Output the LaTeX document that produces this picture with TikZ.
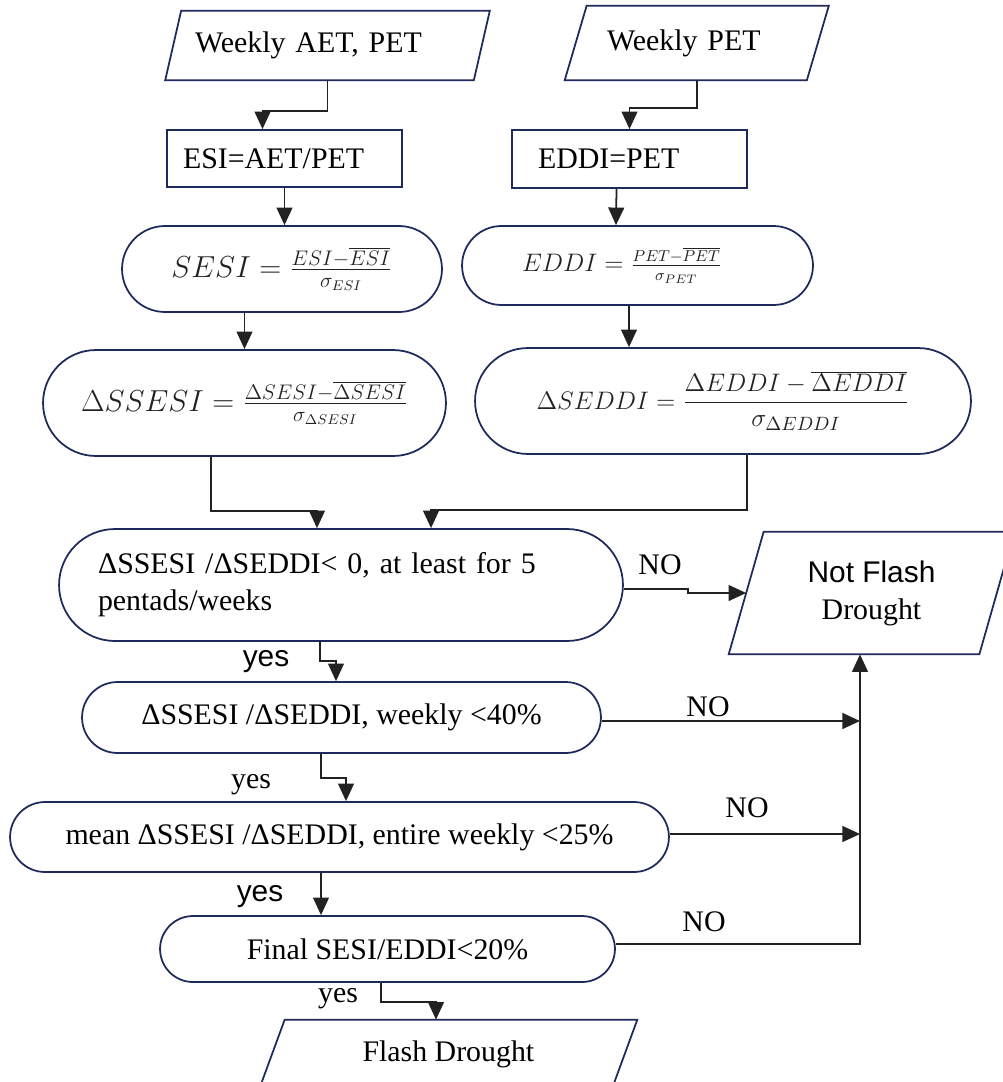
\documentclass[tikz,border=0pt]{standalone}
\usepackage{fontspec}
\setmainfont{Liberation Serif}
\newfontfamily\sansfam{Liberation Sans}
\usetikzlibrary{arrows.meta,calc}
\definecolor{navy}{HTML}{1F2A5C}
\definecolor{ink}{HTML}{222222}

\tikzset{
  every node/.style={font=\fontsize{17}{21}\selectfont, text=black},
  outl/.style={draw=navy, line width=1pt},
  procbox/.style={outl, rectangle, align=left, inner ysep=0pt},
  stad/.style={outl, rectangle, rounded corners=#1, inner sep=2pt},
  iobox/.style={rectangle, align=left, inner ysep=0pt},
  arr/.style={draw=ink, line width=1pt, -{Triangle[length=10pt,width=9pt]}},
  lbl/.style={inner sep=0pt},
  lblsf/.style={inner sep=0pt, font=\fontsize{17}{21}\sansfam},
}

\begin{document}
\begin{tikzpicture}[x=0.02cm,y=-0.02cm,line join=miter]
\useasboundingbox (0,0) rectangle (1003,1082);

% --- inputs and first steps ---
\node[iobox, text width=5.3cm, inner xsep=0.43cm, minimum height=1.38cm] (in1) at (327.5,45.5) {Weekly AET, PET};
\node[iobox, text width=3.59cm, inner xsep=0.62cm, minimum height=1.48cm] (in2) at (696.75,43) {Weekly PET};
\node[procbox, text width=4.06cm, inner xsep=0.32cm, minimum height=1.14cm] (esi) at (284.5,158.5) {ESI=AET/PET};
\node[procbox, text width=3.66cm, inner xsep=0.52cm, minimum height=1.16cm] (eddi) at (629.5,159) {EDDI=PET};

% --- standardised indices ---
\node[stad=0.86cm, minimum width=6.4cm, minimum height=1.72cm, text=ink] (sesi) at (282,269)
  {$SESI = \frac{ESI-\overline{ESI}}{\sigma_{ESI}}$};
\node[stad=0.79cm, minimum height=1.58cm, text width=4.62cm, inner xsep=1.2cm, align=left, text=ink] (edf) at (637.5,265.5)
  {\fontsize{13.5}{16}\selectfont $EDDI = \frac{PET-\overline{PET}}{\sigma_{PET}}$};
\node[stad=1.06cm, minimum width=8.06cm, minimum height=2.12cm, text=ink] (dsesi) at (244.5,403)
  {$\Delta SSESI = \frac{\Delta SESI-\overline{\Delta SESI}}{\sigma_{\Delta SESI}}$};
\node[stad=1.06cm, minimum width=9.92cm, minimum height=2.12cm, text=ink] (dseddi) at (723,401)
  {\fontsize{15}{18}\selectfont $\Delta SEDDI = {\displaystyle\frac{\Delta EDDI-\overline{\Delta EDDI}}{\sigma_{\Delta EDDI}}}$};

% --- checks ---
\node[stad=1.12cm, minimum height=2.24cm, text width=9.72cm, inner xsep=0.78cm, align=left] (c1) at (341,585)
  {ΔSSESI /ΔSEDDI< 0, at least for 5\\pentads/weeks};
\node[stad=0.71cm, minimum width=10.38cm, minimum height=1.42cm] (c2) at (341.5,717.5) {ΔSSESI /ΔSEDDI, weekly <40\%};
\node[stad=0.7cm, minimum width=13.18cm, minimum height=1.4cm] (c3) at (339.5,837) {mean ΔSSESI /ΔSEDDI, entire weekly <25\%};
\node[stad=0.66cm, minimum width=9.1cm, minimum height=1.32cm] (c4) at (387.5,949) {Final SESI/EDDI<20\%};

% --- outputs ---
\node[iobox, align=center, minimum width=5cm, minimum height=2.44cm] (nf) at (871.5,593) {{\sansfam Not Flash}\\Drought};
\node[iobox, align=center, minimum width=7.04cm, minimum height=1.36cm] (fd) at (448.4,1054) {Flash Drought};

% parallelogram outlines
\foreach \n/\s in {in1/8, in2/11, nf/17.5, fd/12.6}
  \draw[outl] ($(\n.north west)+(\s,0)$) -- ($(\n.north east)+(\s,0)$)
    -- ($(\n.south east)+(-\s,0)$) -- ($(\n.south west)+(-\s,0)$) -- cycle;

% --- connectors ---
\draw[arr] (in1.south) -- ++(0,31) -| ($(esi.north)+(-22,0)$);
\draw[arr] (esi.south) -- (esi.south |- sesi.north);
\draw[arr] (in2.south) -- ++(0,28) -| (eddi.north);
\draw[arr] ($(eddi.south)+(-13,0)$) -- ($(edf.north)+(-21.5,0)$);
\draw[arr] (dsesi.north |- sesi.south) -- (dsesi.north);
\draw[arr] ($(edf.south)+(-8.5,0)$) -- ($(dseddi.north)+(-94,0)$);
\draw[arr] ($(dsesi.south)+(-33.5,0)$) -- ++(0,54) -| ($(c1.north)+(-24,0)$);
\draw[arr] ($(dseddi.south)+(24,0)$) -- ++(0,55) -| ($(c1.north)+(90,0)$);

% yes branch
\draw[arr] ($(c1.south)+(-21,0)$) -- ++(0,19) -| ($(c2.north)+(-5.5,0)$);
\draw[arr] ($(c2.south)+(-20.5,0)$) -- ++(0,24) -| ($(c3.north)+(6.5,0)$);
\draw[arr] ($(c3.south)+(-18.5,0)$) -- ($(c4.north)+(-66.5,0)$);
\draw[arr] ($(c4.south)+(-6.5,0)$) -- ++(0,19) -| ($(fd.north)+(-12.4,0)$);

% NO branch
\coordinate (bus) at ($(nf.south)+(-11.5,0)$);
\draw[arr] ($(c1.east)+(0,4)$) -- ++(64,0) |- (nf.west);
\draw[arr] ($(c2.east)+(0,3.5)$) -- ($(bus |- c2.east)+(0,3.5)$);
\draw[arr] ($(c3.east)+(0,-3)$) -- ($(bus |- c3.east)+(0,-3)$);
\draw[arr] ($(c4.east)+(0,-5)$) -| (bus);

% labels
\node[lbl] (no1) at (660,565) {NO};
\node[lbl] (no2) at (708,707) {NO};
\node[lbl] (no3) at (747,808) {NO};
\node[lbl] (no4) at (704,922) {NO};
\node[lblsf] (yes1) at (266,662) {yes};
\node[lbl] (yes2) at (251,785) {yes};
\node[lblsf] (yes3) at (260,897) {yes};
\node[lbl] (yes4) at (338,999) {yes};

\end{tikzpicture}
\end{document}
